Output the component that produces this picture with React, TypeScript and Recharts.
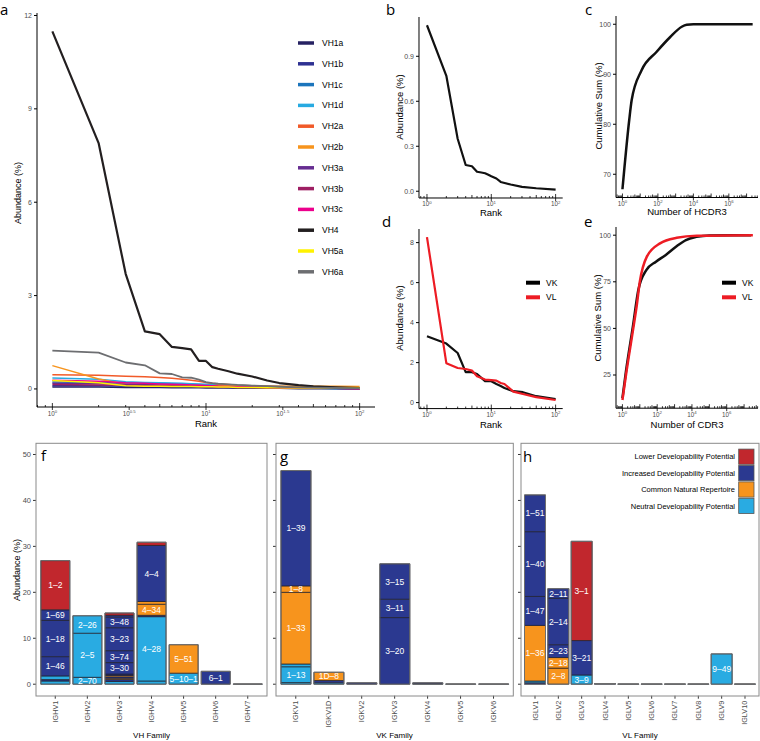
import React from 'react'
import { LineChart, Line, XAxis, YAxis, BarChart, Bar, Cell, LabelList } from 'recharts'

const FONT = '"Liberation Sans", Arial, Helvetica, sans-serif'
const LETTER_FONT = '"Open Sans", "Liberation Sans", sans-serif'
const GREY = '#4d4d4d'

// ---- a: VH clone abundance by rank ----
const rankA = [1, 2, 3, 4, 5, 6, 7, 8, 9, 10, 11, 12, 14, 16, 20, 25, 30, 40, 50, 70, 100]
const vhNames = ['VH1a', 'VH1b', 'VH1c', 'VH1d', 'VH2a', 'VH2b', 'VH3a', 'VH3b', 'VH3c', 'VH4', 'VH5a', 'VH6a']
const vhColors = ['#262262', '#2e3192', '#1c75bc', '#27aae1', '#f15a29', '#f7941d', '#662d91', '#9e1f63', '#ec008c', '#231f20', '#fff200', '#6d6e71']
const vh1a = [0.06, 0.06, 0.05, 0.05, 0.05, 0.04, 0.04, 0.04, 0.04, 0.03, 0.03, 0.03, 0.03, 0.02, 0.02, 0.02, 0.02, 0.01, 0.01, 0.01, 0.01]
const vh1b = [0.1, 0.1, 0.09, 0.09, 0.08, 0.08, 0.07, 0.07, 0.07, 0.06, 0.06, 0.06, 0.05, 0.05, 0.04, 0.04, 0.03, 0.03, 0.02, 0.02, 0.01]
const vh1c = [0.22, 0.21, 0.2, 0.19, 0.18, 0.17, 0.16, 0.15, 0.14, 0.13, 0.12, 0.11, 0.1, 0.09, 0.07, 0.06, 0.05, 0.04, 0.03, 0.01, 0]
const vh1d = [0.35, 0.31, 0.23, 0.21, 0.2, 0.19, 0.18, 0.17, 0.16, 0.15, 0.15, 0.14, 0.13, 0.12, 0.1, 0.09, 0.08, 0.06, 0.05, 0.03, 0.02]
const vh2a = [0.46, 0.44, 0.41, 0.39, 0.37, 0.34, 0.31, 0.28, 0.25, 0.21, 0.18, 0.16, 0.14, 0.12, 0.1, 0.09, 0.08, 0.07, 0.06, 0.05, 0.04]
const vh2b = [0.75, 0.32, 0.15, 0.13, 0.12, 0.12, 0.11, 0.11, 0.11, 0.1, 0.1, 0.1, 0.1, 0.1, 0.1, 0.09, 0.09, 0.09, 0.09, 0.09, 0.08]
const vh3a = [0.18, 0.17, 0.15, 0.14, 0.13, 0.12, 0.11, 0.1, 0.1, 0.09, 0.08, 0.08, 0.07, 0.06, 0.05, 0.04, 0.04, 0.03, 0.02, 0.02, 0.01]
const vh3b = [0.14, 0.13, 0.12, 0.11, 0.1, 0.1, 0.09, 0.09, 0.08, 0.08, 0.07, 0.07, 0.06, 0.05, 0.05, 0.04, 0.03, 0.03, 0.02, 0.02, 0.01]
const vh3c = [0.28, 0.25, 0.2, 0.18, 0.16, 0.15, 0.14, 0.13, 0.12, 0.11, 0.1, 0.09, 0.08, 0.07, 0.06, 0.05, 0.04, 0.03, 0.02, 0.02, 0.01]
const vh4 = [11.49, 7.9, 3.7, 1.85, 1.76, 1.35, 1.31, 1.27, 0.9, 0.9, 0.7, 0.65, 0.57, 0.49, 0.4, 0.27, 0.19, 0.12, 0.08, 0.05, 0.03]
const vh5a = [0.27, 0.2, 0.1, 0.09, 0.09, 0.08, 0.08, 0.08, 0.07, 0.07, 0.07, 0.06, 0.06, 0.05, 0.05, 0.04, 0.04, 0.03, 0.03, 0.02, 0.02]
const vh6a = [1.23, 1.17, 0.85, 0.76, 0.5, 0.48, 0.37, 0.36, 0.3, 0.22, 0.19, 0.17, 0.15, 0.13, 0.11, 0.09, 0.07, 0.05, 0.04, 0.03, 0.02]
const vhValues = [vh1a, vh1b, vh1c, vh1d, vh2a, vh2b, vh3a, vh3b, vh3c, vh4, vh5a, vh6a]

// ---- b: HCDR3 abundance by rank ----
const rankB = [1, 2, 3, 4, 5, 6, 7, 8, 9, 10, 12, 14, 20, 30, 50, 100]
const abundB = [1.107, 0.77, 0.35, 0.175, 0.167, 0.13, 0.125, 0.12, 0.11, 0.1, 0.085, 0.062, 0.045, 0.029, 0.02, 0.011]

// ---- c: HCDR3 cumulative sum ----
const hcdr3Count = [1, 2.4, 3.3, 12, 85, 480, 2200, 4200, 10000, 2.2e7]
const hcdr3Cum = [67, 80.8, 84.8, 90.8, 94.5, 97.4, 99.5, 99.9, 100, 100]

// ---- d: light chain abundance by rank ----
const rankD = [1, 2, 3, 4, 5, 6, 8, 10, 12, 14, 16, 22, 31, 50, 100]
const vkAbund = [3.32, 2.95, 2.48, 1.52, 1.52, 1.43, 1.07, 1.07, 0.93, 0.83, 0.73, 0.57, 0.52, 0.32, 0.18]
const vlAbund = [8.27, 1.97, 1.73, 1.68, 1.6, 1.32, 1.15, 1.12, 1.1, 0.98, 0.93, 0.55, 0.43, 0.27, 0.13]

// ---- e: light chain cumulative sum ----
const vkCount = [1, 1.6, 4, 8.2, 23.6, 85, 300, 1200, 4500, 18000, 100000, 2.5e7]
const vkCum = [12.6, 27, 51, 70.6, 81.3, 85.8, 89.3, 93.8, 97.4, 99.1, 99.9, 100]
const vlCount = [1, 1.6, 4.2, 6.6, 10, 25, 146, 1330, 19000, 3.2e7]
const vlCum = [11.6, 25, 50, 62, 75, 88.4, 95.6, 98.6, 99.7, 100]

// ---- f-h: gene usage by family, segments bottom to top [gene, class, %] ----
const catKeys = ['L', 'I', 'C', 'N']
const catNames = ['Lower Developability Potential', 'Increased Developability Potential', 'Common Natural Repertoire', 'Neutral Developability Potential']
const catColors = ['#c1272d', '#2b3990', '#f7941d', '#29abe2']

const vhFamilies = ['IGHV1', 'IGHV2', 'IGHV3', 'IGHV4', 'IGHV5', 'IGHV6', 'IGHV7']
const ighv1 = [['', 'N', 0.7], ['', 'I', 0.3], ['', 'N', 0.8], ['1–46', 'I', 4.2], ['1–18', 'I', 7.9], ['1–69', 'I', 2.3], ['1–2', 'L', 10.7]]
const ighv2 = [['2–70', 'N', 1.5], ['2–5', 'N', 9.6], ['2–26', 'N', 3.8]]
const ighv3 = [['', 'N', 0.6], ['', 'I', 0.4], ['', 'C', 0.3], ['', 'I', 0.3], ['', 'C', 0.3], ['', 'I', 0.3], ['3–30', 'I', 2.5], ['3–74', 'I', 2.6], ['3–23', 'I', 5.0], ['3–48', 'I', 2.3], ['', 'I', 0.4], ['', 'L', 0.5]]
const ighv4 = [['', 'N', 0.7], ['4–28', 'N', 14.0], ['', 'I', 0.3], ['4–34', 'C', 2.4], ['', 'C', 0.6], ['4–4', 'I', 12.2], ['', 'L', 0.7]]
const ighv5 = [['5–10–1', 'N', 2.4], ['5–51', 'C', 6.2]]
const ighv6 = [['6–1', 'I', 2.8]]
const ighv7 = [['', 'N', 0.05]]

const vkFamilies = ['IGKV1', 'IGKV1D', 'IGKV2', 'IGKV3', 'IGKV4', 'IGKV5', 'IGKV6']
const igkv1 = [['', 'N', 0.35], ['1–13', 'N', 3.45], ['', 'N', 0.6], ['1–33', 'C', 15.6], ['1–8', 'C', 1.4], ['1–39', 'I', 25.1]]
const igkv1d = [['', 'N', 0.3], ['', 'I', 0.5], ['1D–8', 'C', 1.8]]
const igkv2 = [['', 'I', 0.3]]
const igkv3 = [['3–20', 'I', 14.5], ['3–11', 'I', 4.0], ['3–15', 'I', 7.7]]
const igkv4 = [['', 'N', 0.1], ['', 'I', 0.2]]
const igkv5 = [['', 'N', 0.05]]
const igkv6 = [['', 'N', 0.05]]

const vlFamilies = ['IGLV1', 'IGLV2', 'IGLV3', 'IGLV4', 'IGLV5', 'IGLV6', 'IGLV7', 'IGLV8', 'IGLV9', 'IGLV10']
const iglv1 = [['', 'I', 0.3], ['', 'N', 0.4], ['1–36', 'C', 12.1], ['1–47', 'I', 6.3], ['1–40', 'I', 14.1], ['1–51', 'I', 8.0]]
const iglv2 = [['2–8', 'C', 3.5], ['2–18', 'C', 2.3], ['2–23', 'I', 2.8], ['2–14', 'I', 10.1], ['2–11', 'I', 2.1]]
const iglv3 = [['3–9', 'N', 2.0], ['3–21', 'I', 7.5], ['3–1', 'L', 21.6]]
const iglv4 = [['', 'I', 0.15]]
const iglv5 = [['', 'N', 0.05]]
const iglv6 = [['', 'N', 0.05]]
const iglv7 = [['', 'N', 0.05]]
const iglv8 = [['', 'N', 0.05]]
const iglv9 = [['9–49', 'N', 6.6]]
const iglv10 = [['', 'N', 0.05]]

const famTicks = [0, 10, 20, 30, 40, 50]

// ---------------------------------------------------------------

const zip = (xs: number[], ys: number[]) => xs.map((x, i) => ({ x, y: ys[i] }))
const catColor = (k: string) => catColors[catKeys.indexOf(k)] ?? 'none'

function logTicks(lo: number, hi: number) {
  const out: number[] = []
  for (let k = Math.floor(Math.log10(lo)); k <= Math.ceil(Math.log10(hi)); k++)
    for (let m = 1; m <= 9; m++) {
      const v = m * 10 ** k
      if (v >= lo && v <= hi) out.push(v)
    }
  return out
}

type Major = { v: number; e: string }

function makeLogTick(majors: Major[]) {
  return (p: any) => {
    const { x, y, payload } = p
    const lg = Math.log10(payload.value)
    const major = majors.find((m) => Math.abs(Math.log10(m.v) - lg) < 1e-6)
    const mant = 10 ** (lg - Math.floor(lg + 1e-9))
    const isLog = Math.abs(mant - Math.round(mant)) < 1e-6
    const len = !isLog ? 0 : Math.round(mant) === 1 ? 4 : Math.round(mant) === 5 ? 3 : 2
    return (
      <g>
        {len > 0 && <line x1={x} x2={x} y1={y} y2={y - len} stroke="black" strokeWidth={0.8} />}
        {major && <line x1={x} x2={x} y1={y} y2={y + 3} stroke="black" strokeWidth={0.8} />}
        {major && (
          <text x={x} y={y + 8.5} textAnchor="middle" fontSize={6.3} fill={GREY} fontFamily={FONT}>
            10<tspan dy={-2.6} fontSize={4.3}>{major.e}</tspan>
          </text>
        )}
      </g>
    )
  }
}

type Series = { name: string; color: string; width: number; pts: { x: number; y: number }[]; curve?: 'linear' | 'monotone' }

interface LogPanelProps {
  x0: number; y0: number; x1: number; y1: number
  xLo: number; xHi: number; majors: Major[]
  yDomain: [number, number]; yTicks: number[]; yFmt?: (v: number) => string
  series: Series[]
}

function LogPanel({ x0, y0, x1, y1, xLo, xHi, majors, yDomain, yTicks, yFmt, series }: LogPanelProps) {
  const YW = 30, TOP = 6, RIGHT = 4, XH = 18
  const ticks = Array.from(new Set([...logTicks(xLo, xHi), ...majors.map((m) => m.v)])).sort((a, b) => a - b)
  return (
    <div style={{ position: 'absolute', left: x0 - YW, top: y0 - TOP }}>
      <LineChart width={x1 - x0 + YW + RIGHT} height={y1 - y0 + TOP + XH} margin={{ top: TOP, right: RIGHT, left: 0, bottom: 0 }}>
        <XAxis type="number" dataKey="x" scale="log" domain={[xLo, xHi]} allowDataOverflow ticks={ticks} interval={0}
          tickSize={0} tickMargin={0} tickLine={false} tick={makeLogTick(majors)} height={XH} axisLine={{ stroke: 'black', strokeWidth: 1 }} />
        <YAxis type="number" domain={yDomain} allowDataOverflow ticks={yTicks} interval={0} width={YW} tickSize={3} tickMargin={2}
          tickFormatter={yFmt} tick={{ fontSize: 7, fill: GREY, fontFamily: FONT }} tickLine={{ stroke: 'black' }} axisLine={{ stroke: 'black', strokeWidth: 1 }} />
        {series.map((s) => (
          <Line key={s.name} data={s.pts} dataKey="y" type={s.curve ?? 'linear'} stroke={s.color} strokeWidth={s.width}
            dot={false} activeDot={false} isAnimationActive={false} strokeLinejoin="round" />
        ))}
      </LineChart>
    </div>
  )
}

const SegLabel = (p: any) => {
  if (!p.value) return null
  const vb = p.viewBox ?? p
  const x = vb.x ?? p.x, y = vb.y ?? p.y, w = vb.width ?? p.width, h = vb.height ?? p.height
  return (
    <text x={x + w / 2} y={y + h / 2} dy="0.36em" textAnchor="middle" fontSize={8.5} fill="white" fontFamily={FONT}>
      {p.value}
    </text>
  )
}

const FamTick = (p: any) => (
  <g transform={`translate(${p.x + 2.5},${p.y}) rotate(-90)`}>
    <text textAnchor="end" fontSize={7.3} fill={GREY} fontFamily={FONT}>{p.payload.value}</text>
  </g>
)

const FAM_Y0 = 443.3, FAM_Y1 = 696

function FamilyPanel({ x0, x1, families, segs, yLabels }: { x0: number; x1: number; families: string[]; segs: any[][]; yLabels: boolean }) {
  const YW = 36, XH = 42
  const W = x1 - x0
  const pad = (0.1 * W) / (families.length + 0.2)
  const maxSeg = Math.max(...segs.map((s) => s.length))
  const rows = families.map((fam, r) => {
    const row: any = { fam, total: segs[r].reduce((a: number, s: any) => a + s[2], 0) }
    for (let i = 0; i < maxSeg; i++) {
      const s = segs[r][i]
      row['s' + i] = s ? s[2] : 0
      row['n' + i] = s ? s[0] : ''
      row['c' + i] = s ? s[1] : ''
    }
    return row
  })
  const idx = Array.from({ length: maxSeg }, (_, i) => i)
  return (
    <div style={{ position: 'absolute', left: x0 - YW, top: FAM_Y0 }}>
      <BarChart width={W + YW} height={FAM_Y1 - FAM_Y0 + XH} data={rows} margin={{ top: 0, right: 0, left: 0, bottom: 0 }} barCategoryGap="5%">
        <XAxis dataKey="fam" padding={{ left: pad, right: pad }} interval={0} axisLine={false} tickSize={3} tickMargin={2}
          tickLine={{ stroke: '#333' }} tick={FamTick} height={XH} />
        <XAxis xAxisId="o" dataKey="fam" hide padding={{ left: pad, right: pad }} />
        <YAxis type="number" domain={[-2.5, 52.5]} ticks={famTicks} interval={0} allowDataOverflow width={YW} axisLine={false}
          tickSize={3} tickMargin={2} tickLine={{ stroke: '#333' }} tickFormatter={yLabels ? undefined : () => ''}
          tick={{ fontSize: 7.5, fill: GREY, fontFamily: FONT }} />
        {idx.map((i) => (
          <Bar key={i} dataKey={'s' + i} stackId="a" stroke="#1e1e2a" strokeWidth={0.7} isAnimationActive={false}>
            {rows.map((r, j) => <Cell key={j} fill={catColor(r['c' + i])} />)}
            <LabelList dataKey={'n' + i} content={SegLabel} />
          </Bar>
        ))}
        <Bar xAxisId="o" dataKey="total" fill="none" stroke="#6e6e6e" strokeWidth={1} isAnimationActive={false} />
      </BarChart>
    </div>
  )
}

const VTitle = ({ x, y, size, children }: any) => (
  <text x={x} y={y} transform={`rotate(-90 ${x} ${y})`} textAnchor="middle" fontSize={size} fontFamily={FONT} fill="black">{children}</text>
)
const HTitle = ({ x, y, size, children }: any) => (
  <text x={x} y={y} textAnchor="middle" fontSize={size} fontFamily={FONT} fill="black">{children}</text>
)
const Letter = ({ x, y, children }: any) => (
  <text x={x} y={y} fontSize={15} fontFamily={LETTER_FONT} fill="black">{children}</text>
)

export default function App() {
  const majorsA: Major[] = [{ v: 1, e: '0' }, { v: 10 ** 0.5, e: '0.5' }, { v: 10, e: '1' }, { v: 10 ** 1.5, e: '1.5' }, { v: 100, e: '2' }]
  const majorsB: Major[] = [{ v: 1, e: '0' }, { v: 10, e: '1' }, { v: 100, e: '2' }]
  const majorsC: Major[] = [{ v: 1, e: '0' }, { v: 100, e: '2' }, { v: 1e4, e: '4' }, { v: 1e6, e: '6' }]

  const seriesA: Series[] = vhNames.map((name, i) => ({
    name, color: vhColors[i], width: name === 'VH4' ? 2.2 : name === 'VH6a' ? 1.8 : 1.5, pts: zip(rankA, vhValues[i]),
  }))

  const lightLegend = [{ name: 'VK', color: '#000000' }, { name: 'VL', color: '#ed1c24' }]

  return (
    <div style={{ position: 'absolute', left: 0, top: 0, width: 760, height: 741, overflow: 'hidden', background: 'white', fontFamily: FONT }}>
      <LogPanel x0={37} y0={13} x1={375} y1={407} xLo={10 ** -0.1} xHi={10 ** 2.1} majors={majorsA}
        yDomain={[-0.58, 12.08]} yTicks={[0, 3, 6, 9, 12]} series={seriesA} />

      <LogPanel x0={419} y0={16.7} x1={562.7} y1={197.7} xLo={10 ** -0.124} xHi={10 ** 2.11} majors={majorsB}
        yDomain={[-0.045, 1.162]} yTicks={[0, 0.3, 0.6, 0.9]} yFmt={(v) => v.toFixed(1)}
        series={[{ name: 'HCDR3', color: '#111', width: 2.2, pts: zip(rankB, abundB) }]} />

      <LogPanel x0={616} y0={15.75} x1={758} y1={197.25} xLo={10 ** -0.364} xHi={10 ** 7.644} majors={majorsC}
        yDomain={[65.35, 101.65]} yTicks={[70, 80, 90, 100]}
        series={[{ name: 'HCDR3', color: '#111', width: 2.5, pts: zip(hcdr3Count, hcdr3Cum), curve: 'monotone' }]} />

      <LogPanel x0={419} y0={228.6} x1={562.7} y1={408.2} xLo={10 ** -0.124} xHi={10 ** 2.11} majors={majorsB}
        yDomain={[-0.3, 8.68]} yTicks={[0, 2, 4, 6, 8]}
        series={[
          { name: 'VK', color: '#111', width: 2.2, pts: zip(rankD, vkAbund) },
          { name: 'VL', color: '#ed1c24', width: 2.2, pts: zip(rankD, vlAbund) },
        ]} />

      <LogPanel x0={616} y0={227} x1={758} y1={408.2} xLo={10 ** -0.37} xHi={10 ** 7.8} majors={majorsC}
        yDomain={[7.2, 104.4]} yTicks={[25, 50, 75, 100]}
        series={[
          { name: 'VK', color: '#111', width: 2.5, pts: zip(vkCount, vkCum), curve: 'monotone' },
          { name: 'VL', color: '#ed1c24', width: 2.5, pts: zip(vlCount, vlCum), curve: 'monotone' },
        ]} />

      <FamilyPanel x0={36} x1={267} families={vhFamilies} segs={[ighv1, ighv2, ighv3, ighv4, ighv5, ighv6, ighv7]} yLabels />
      <FamilyPanel x0={276} x1={513.3} families={vkFamilies} segs={[igkv1, igkv1d, igkv2, igkv3, igkv4, igkv5, igkv6]} yLabels={false} />
      <FamilyPanel x0={521} x1={759} families={vlFamilies}
        segs={[iglv1, iglv2, iglv3, iglv4, iglv5, iglv6, iglv7, iglv8, iglv9, iglv10]} yLabels={false} />

      <svg width={760} height={741} style={{ position: 'absolute', left: 0, top: 0, pointerEvents: 'none' }}>
        <Letter x={0} y={15}>a</Letter>
        <Letter x={386} y={15}>b</Letter>
        <Letter x={585} y={15}>c</Letter>
        <Letter x={382} y={227}>d</Letter>
        <Letter x={584} y={227}>e</Letter>
        <Letter x={41} y={461}>f</Letter>
        <Letter x={280} y={462}>g</Letter>
        <Letter x={523} y={462}>h</Letter>

        <VTitle x={20.5} y={193} size={9}>Abundance (%)</VTitle>
        <HTitle x={206} y={427} size={9.5}>Rank</HTitle>
        <VTitle x={403} y={107} size={9.5}>Abundance (%)</VTitle>
        <HTitle x={491} y={215.5} size={9.5}>Rank</HTitle>
        <VTitle x={602} y={106} size={9.5}>Cumulative Sum (%)</VTitle>
        <HTitle x={687} y={215} size={9.5}>Number of HCDR3</HTitle>
        <VTitle x={403} y={318} size={9.5}>Abundance (%)</VTitle>
        <HTitle x={491} y={427.5} size={9.5}>Rank</HTitle>
        <VTitle x={601} y={318} size={9.5}>Cumulative Sum (%)</VTitle>
        <HTitle x={687} y={427.5} size={9.5}>Number of CDR3</HTitle>

        <VTitle x={20} y={570} size={9}>Abundance (%)</VTitle>
        <HTitle x={151.5} y={738} size={8}>VH Family</HTitle>
        <HTitle x={394.5} y={738} size={8}>VK Family</HTitle>
        <HTitle x={640} y={738} size={8}>VL Family</HTitle>

        {/* legend a */}
        {vhNames.map((n, i) => (
          <g key={n}>
            <line x1={298} x2={314} y1={43 + i * 20.8} y2={43 + i * 20.8} stroke={vhColors[i]} strokeWidth={3.5} />
            <text x={322} y={43 + i * 20.8} dy="0.35em" fontSize={8.5} fontFamily={FONT}>{n}</text>
          </g>
        ))}

        {/* legends d, e */}
        {[526, 722].map((lx) =>
          lightLegend.map((l, i) => (
            <g key={lx + l.name}>
              <line x1={lx} x2={lx + 14} y1={282.7 + i * 14.6} y2={282.7 + i * 14.6} stroke={l.color} strokeWidth={4} />
              <text x={lx + 20} y={282.7 + i * 14.6} dy="0.35em" fontSize={8.5} fontFamily={FONT}>{l.name}</text>
            </g>
          ))
        )}

        {/* panel borders f-h */}
        <rect x={36} y={FAM_Y0} width={231} height={FAM_Y1 - FAM_Y0} fill="none" stroke="#8a8a8a" strokeWidth={1} />
        <rect x={276} y={FAM_Y0} width={237.3} height={FAM_Y1 - FAM_Y0} fill="none" stroke="#8a8a8a" strokeWidth={1} />
        <rect x={521} y={FAM_Y0} width={238} height={FAM_Y1 - FAM_Y0} fill="none" stroke="#8a8a8a" strokeWidth={1} />

        {/* legend h */}
        {catNames.map((n, i) => {
          const cy = 456.7 + i * 16.4
          return (
            <g key={n}>
              <rect x={738.7} y={cy - 7.6} width={15.3} height={15.2} fill={catColors[i]} stroke="#555" strokeWidth={0.8} />
              <text x={735} y={cy} dy="0.35em" textAnchor="end" fontSize={7.5} fontFamily={FONT}>{n}</text>
            </g>
          )
        })}
      </svg>
    </div>
  )
}
